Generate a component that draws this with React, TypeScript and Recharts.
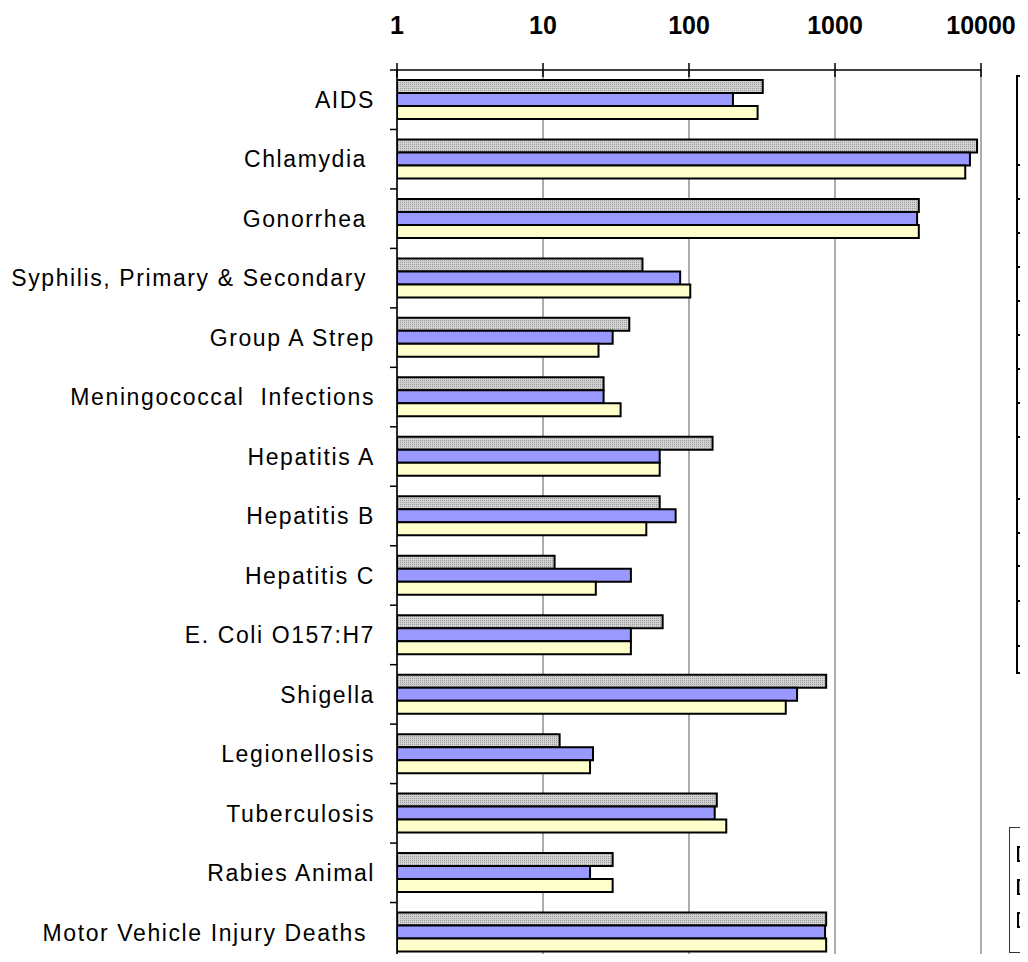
import React from 'react';
import { BarChart, Bar, XAxis, YAxis, CartesianGrid } from 'recharts';

const categories = [
  'AIDS',
  'Chlamydia\u00A0',
  'Gonorrhea\u00A0',
  'Syphilis, Primary & Secondary\u00A0',
  'Group A Strep',
  'Meningococcal\u00A0 Infections',
  'Hepatitis A',
  'Hepatitis B',
  'Hepatitis C',
  'E. Coli O157:H7',
  'Shigella',
  'Legionellosis',
  'Tuberculosis',
  'Rabies Animal',
  'Motor Vehicle Injury Deaths\u00A0',
];

const seriesNames = ['2003', '2004', '2005'];
const grayValues = [320, 9400, 3750, 48, 39, 26, 145, 63, 12, 66, 870, 13, 155, 30, 870];
const blueValues = [200, 8400, 3650, 87, 30, 26, 63, 81, 40, 40, 550, 22, 150, 21, 855];
const yellowValues = [295, 7800, 3750, 102, 24, 34, 63, 51, 23, 40, 460, 21, 180, 30, 870];
const xTicks = [1, 10, 100, 1000, 10000];

const seriesColors = ['url(#grayDots)', '#9999FF', '#FFFFCC'];
const legendSwatches = ['#C8C8C8', '#9999FF', '#FFFFCC'];

const tableRows = [
  { text: 'Values are rates per 100,000', h: 87, bold: false },
  { text: 'Rate', h: 34, bold: true },
  { text: 'Rate', h: 34, bold: true },
  { text: 'Rate', h: 34, bold: true },
  { text: 'Rate', h: 34, bold: true },
  { text: 'Rate', h: 34, bold: true },
  { text: 'Rate', h: 34, bold: true },
  { text: 'Rate', h: 34, bold: true },
  { text: 'Total', h: 34, bold: true },
  { text: '', h: 62, bold: true },
  { text: 'Age', h: 34, bold: true },
  { text: 'Rate', h: 33, bold: true },
  { text: 'Rate', h: 35, bold: true },
  { text: 'Rate', h: 45, bold: true },
  { text: 'Total', h: 27, bold: true },
];

const data = categories.map((name, i) => ({
  name,
  s1: grayValues[i],
  s2: blueValues[i],
  s3: yellowValues[i],
}));

const CHART_W = 1020;
const CHART_H = 954;
const AXIS_H = 62;
const YAXIS_W = 389;
const RIGHT_M = 47;
const Y_TICK_MARGIN = 22;
const X_TICK_SIZE = 7;
const X_TICK_MARGIN = 29;
const BAND = (CHART_H - AXIS_H) / categories.length;

function CategoryTick(props: any) {
  const { x, y, payload, index } = props;
  const axisX = x + Y_TICK_MARGIN;
  const top = y - BAND / 2;
  const bottom = y + BAND / 2;
  return (
    <g>
      <line x1={axisX - 7} x2={axisX} y1={top} y2={top} stroke="#000" strokeWidth={1.5} />
      {index === categories.length - 1 && (
        <line x1={axisX - 7} x2={axisX} y1={bottom} y2={bottom} stroke="#000" strokeWidth={1.5} />
      )}
      <text
        x={x}
        y={y}
        dy="0.36em"
        textAnchor="end"
        fontSize={23}
        letterSpacing={1.6}
        fill="#000"
      >
        {payload.value}
      </text>
    </g>
  );
}

function ValueTick(props: any) {
  const { x, y, payload } = props;
  const axisY = y + X_TICK_MARGIN + X_TICK_SIZE;
  return (
    <g>
      <line x1={x} x2={x} y1={axisY - X_TICK_SIZE} y2={axisY + X_TICK_SIZE} stroke="#000" strokeWidth={1.5} />
      <text x={x} y={y} textAnchor="middle" fontSize={25} fontWeight="bold" fill="#000">
        {payload.value}
      </text>
    </g>
  );
}

export default function App() {
  return (
    <div
      style={{
        position: 'relative',
        width: CHART_W,
        height: CHART_H,
        marginBottom: -8,
        overflow: 'hidden',
        fontFamily: "'Liberation Sans', Arial, sans-serif",
        background: '#fff',
      }}
    >
      <BarChart
        width={CHART_W}
        height={CHART_H}
        data={data}
        layout="vertical"
        barGap={0}
        margin={{ top: 0, right: RIGHT_M, bottom: 0, left: 0 }}
      >
        <defs>
          <pattern id="grayDots" width="2" height="2" patternUnits="userSpaceOnUse">
            <rect width="2" height="2" fill="#d2d2d2" />
            <rect x="0" y="0" width="1" height="1" fill="#9c9c9c" />
          </pattern>
        </defs>
        <CartesianGrid horizontal={false} stroke="#808080" strokeWidth={1.3} />
        <XAxis
          type="number"
          orientation="top"
          scale="log"
          domain={[1, 10000]}
          ticks={xTicks}
          allowDataOverflow
          interval={0}
          height={AXIS_H}
          tickSize={X_TICK_SIZE}
          tickMargin={X_TICK_MARGIN}
          axisLine={{ stroke: '#000', strokeWidth: 1.5 }}
          tickLine={false}
          tick={ValueTick}
        />
        <YAxis
          type="category"
          dataKey="name"
          width={YAXIS_W}
          interval={0}
          tickSize={0}
          tickMargin={Y_TICK_MARGIN}
          tickLine={false}
          axisLine={{ stroke: '#000', strokeWidth: 1.5 }}
          tick={CategoryTick}
        />
        {['s1', 's2', 's3'].map((k, i) => (
          <Bar
            key={k}
            dataKey={k}
            name={seriesNames[i]}
            fill={seriesColors[i]}
            stroke="#000"
            strokeWidth={2}
            barSize={13}
            isAnimationActive={false}
          />
        ))}
      </BarChart>

      {/* data table, clipped at the right edge */}
      <div
        style={{
          position: 'absolute',
          left: 1008,
          top: 67,
          width: 300,
          borderLeft: '2px solid #000',
          borderTop: '2px solid #000',
          borderBottom: '2px solid #000',
        }}
      >
        {tableRows.map((r, i) => (
          <div
            key={i}
            style={{
              height: r.h,
              boxSizing: 'border-box',
              borderTop: i === 0 ? 'none' : '2px solid #000',
              paddingLeft: 3,
              paddingTop: i === 0 ? 30 : 6,
              fontSize: 20,
              fontWeight: r.bold ? 'bold' : 'normal',
              whiteSpace: 'nowrap',
              lineHeight: '22px',
            }}
          >
            {r.text}
          </div>
        ))}
      </div>

      {/* legend, clipped at the right edge */}
      <div
        style={{
          position: 'absolute',
          left: 1001,
          top: 819,
          width: 200,
          height: 126,
          border: '1.5px solid #333',
          boxSizing: 'border-box',
        }}
      >
        {seriesNames.map((n, i) => (
          <div
            key={n}
            style={{
              position: 'absolute',
              left: 7,
              top: 16 + i * 33,
              display: 'flex',
              alignItems: 'center',
              fontSize: 17,
              whiteSpace: 'nowrap',
            }}
          >
            <span
              style={{
                display: 'inline-block',
                flex: '0 0 auto',
                width: 12,
                height: 12,
                background: legendSwatches[i],
                border: '2px solid #000',
                marginRight: 6,
              }}
            />
            {n}
          </div>
        ))}
      </div>
    </div>
  );
}
